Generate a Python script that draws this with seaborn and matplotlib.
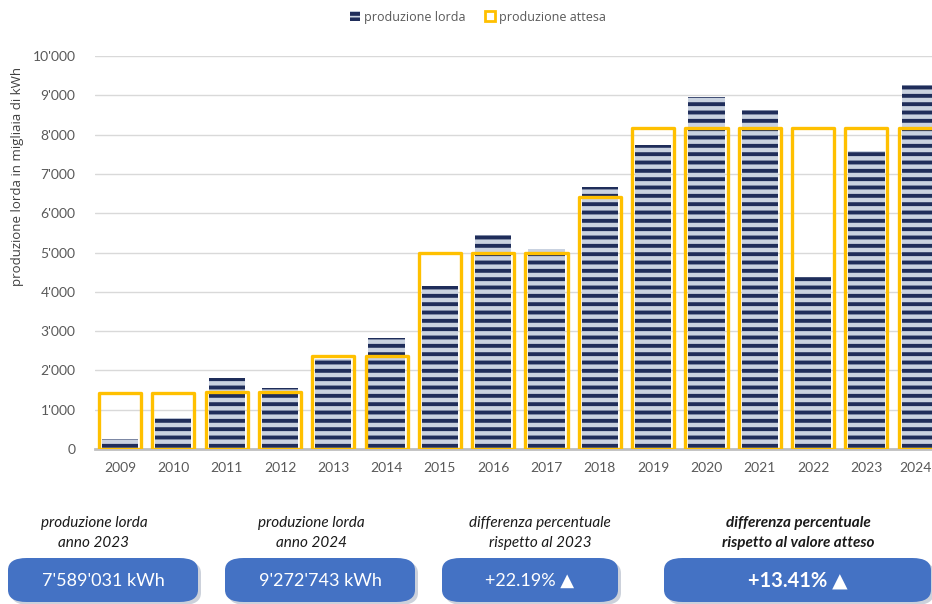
import matplotlib
matplotlib.use("Agg")
import matplotlib.pyplot as plt
import seaborn as sns
from matplotlib.patches import Patch, FancyBboxPatch
from matplotlib.ticker import FuncFormatter

anni = [str(a) for a in range(2009, 2025)]
produzione_lorda = [250, 790, 1800, 1540, 2300, 2820, 4150, 5450, 5090, 6670,
                    7740, 8960, 8630, 4380, 7589, 9273]
produzione_attesa = [1420, 1420, 1460, 1460, 2370, 2370, 4990, 4990, 4990, 6420,
                     8176, 8176, 8176, 8176, 8176, 8176]

didascalie = ["produzione lorda\nanno 2023", "produzione lorda\nanno 2024",
              "differenza percentuale\nrispetto al 2023",
              "differenza percentuale\nrispetto al valore atteso"]
valori_box = ["7'589'031 kWh", "9'272'743 kWh", "+22.19% \u25B2", "+13.41% \u25B2"]

NAVY = "#1f2d5a"
GIALLO = "#ffc000"
BLU = "#4472c4"

sns.set_theme(style="white")
plt.rcParams["font.family"] = ["Lato", "DejaVu Sans"]
plt.rcParams["hatch.linewidth"] = 2.8

W, H = 932, 604
fig = plt.figure(figsize=(W / 100, H / 100), dpi=100)
ax = fig.add_axes([95 / W, 1 - 449 / H, 1 - 95 / W, (449 - 56) / H])

sns.barplot(x=anni, y=produzione_lorda, ax=ax, width=0.68, color="#c9d2e0",
            edgecolor=NAVY, linewidth=0, hatch="--", saturation=1)
n = len(ax.patches)
sns.barplot(x=anni, y=produzione_attesa, ax=ax, width=0.79, fill=False,
            edgecolor=GIALLO, linewidth=2.4)
for p in ax.patches[n:]:
    p.set_facecolor("none")
    p.set_edgecolor(GIALLO)
    p.set_joinstyle("round")
    p.set_zorder(3)

ax.set_xlim(-0.47, 15.23)
ax.set_ylim(0, 10000)
ax.set_yticks(range(0, 10001, 1000))
ax.yaxis.set_major_formatter(FuncFormatter(lambda v, _: f"{int(v):,}".replace(",", "'")))
# l'ultima etichetta (2024) è spostata appena a sinistra per restare nel riquadro
pos_tick = list(range(len(anni) - 1)) + [len(anni) - 1.08]
ax.set_xticks(pos_tick, anni)
ax.grid(axis="y", color="#d9d9d9", linewidth=1)
ax.set_axisbelow(True)
for s in ["top", "right", "left"]:
    ax.spines[s].set_visible(False)
ax.spines["bottom"].set_color("#bfbfbf")
ax.spines["bottom"].set_linewidth(2)
ax.tick_params(axis="both", length=0, labelsize=10, colors="#595959")
ax.tick_params(axis="y", pad=14)
ax.tick_params(axis="x", pad=9)
ax.set_xlabel("")
ax.set_ylabel("")

fig.text(18 / W, 1 - 176 / H, "produzione lorda in migliaia di kWh", rotation=90,
         ha="center", va="center", fontsize=9.5, color="#404040", family="Open Sans")

handles = [Patch(facecolor="#c9d2e0", edgecolor=NAVY, hatch="---", linewidth=0),
           Patch(facecolor="white", edgecolor=GIALLO, linewidth=2)]
fig.legend(handles, ["produzione lorda", "produzione attesa"], loc="center",
           bbox_to_anchor=(478 / W, 1 - 17 / H), ncol=2, frameon=False,
           handlelength=0.8, handleheight=0.8, handletextpad=0.3, columnspacing=1.6,
           prop={"family": "Open Sans", "size": 9}, labelcolor="#595959")

# riquadri riepilogativi in basso
boxes = [(8, 198, 94), (225, 415, 311), (442, 618, 540), (664, 931, 798)]
for i, ((x0, x1, xc), cap, val) in enumerate(zip(boxes, didascalie, valori_box)):
    grande = i == 3
    fig.add_artist(FancyBboxPatch(((x0 + 3) / W, 1 - 605 / H), (x1 - x0) / W, 44 / H,
                                  boxstyle="round,pad=0,rounding_size=0.02",
                                  transform=fig.transFigure, facecolor="#9aa5b8",
                                  edgecolor="none", alpha=0.5, zorder=1))
    fig.add_artist(FancyBboxPatch((x0 / W, 1 - 602 / H), (x1 - x0) / W, 44 / H,
                                  boxstyle="round,pad=0,rounding_size=0.02",
                                  transform=fig.transFigure, facecolor=BLU,
                                  edgecolor="none", zorder=2))
    fig.text((x0 + x1) / 2 / W, 1 - 581 / H, val, ha="center", va="center",
             color="white", fontsize=14.5 if grande else 13,
             fontweight="bold" if grande else "normal",
             family=["Lato", "DejaVu Sans"], zorder=3)
    fig.text(xc / W, 1 - 533 / H, cap, ha="center", va="center", color="#1a1a1a",
             fontsize=11, style="italic", fontweight="bold" if grande else "normal",
             linespacing=1.55)

fig.savefig("out.png", dpi=100)
